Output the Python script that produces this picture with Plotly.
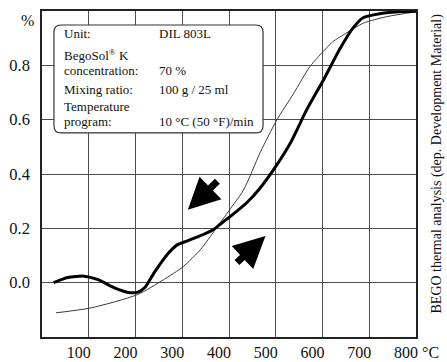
import plotly.graph_objects as go

# ---- data ----
thick_x = [25, 55, 90, 120, 155, 185, 205, 220, 240, 268, 290, 310, 335, 366, 381, 403,
           439, 465, 495, 531, 566, 602, 637, 665, 687, 722, 771, 800]
thick_y = [0.0, 0.019, 0.024, 0.011, -0.019, -0.036, -0.035, -0.018, 0.037, 0.104, 0.140,
           0.153, 0.170, 0.195, 0.215, 0.244, 0.296, 0.345, 0.415, 0.513, 0.636, 0.746,
           0.860, 0.937, 0.975, 0.990, 0.998, 0.999]

thin_x = [30, 104, 204, 260, 302, 339, 371, 400, 431, 467, 502, 538, 573, 609, 622, 652,
          687, 737, 800]
thin_y = [-0.111, -0.093, -0.044, 0.011, 0.059, 0.122, 0.196, 0.265, 0.341, 0.480, 0.598,
          0.696, 0.795, 0.865, 0.887, 0.920, 0.955, 0.979, 0.997]

x_ticks = [100, 200, 300, 400, 500, 600, 700, 800]
x_tick_labels = ["100", "200", "300", "400", "500", "600", "700", "800"]
y_ticks = [0.0, 0.2, 0.4, 0.6, 0.8]
y_tick_labels = ["0.0", "0.2", "0.4", "0.6", "0.8"]

info_labels = ["Unit:", "BegoSol<sup>®</sup> K", "concentration:", "Mixing ratio:", "Temperature", "program:"]
info_values = ["DIL 803L", "", "70 %", "100 g / 25 ml", "", "10 °C (50 °F)/min"]

FONT = "Liberation Serif"
INK = "#111111"

fig = go.Figure()
fig.add_trace(go.Scatter(x=thin_x, y=thin_y, mode="lines",
                         line=dict(color="#3a3a3a", width=1, shape="spline", smoothing=0.7),
                         hoverinfo="skip", showlegend=False))
fig.add_trace(go.Scatter(x=thick_x, y=thick_y, mode="lines",
                         line=dict(color="#000000", width=3, shape="spline", smoothing=0.6),
                         hoverinfo="skip", showlegend=False))

# info box (rounded rectangle, paper coords)
x0, x1, y0, y1 = 0.032, 0.591, 0.626, 0.957
rx, ry = 0.019, 0.022
path = (f"M {x0+rx},{y1} L {x1-rx},{y1} Q {x1},{y1} {x1},{y1-ry} "
        f"L {x1},{y0+ry} Q {x1},{y0} {x1-rx},{y0} L {x0+rx},{y0} "
        f"Q {x0},{y0} {x0},{y0+ry} L {x0},{y1-ry} Q {x0},{y1} {x0+rx},{y1} Z")
fig.add_shape(type="path", path=path, xref="paper", yref="paper",
              line=dict(color="#333333", width=1.2), fillcolor="white", layer="above")

line_y = [0.9325, 0.865, 0.819, 0.758, 0.7075, 0.6616]
ann = []
for lab, val, yy in zip(info_labels, info_values, line_y):
    ann.append(dict(x=0.0535, y=yy, xref="paper", yref="paper", text=lab, showarrow=False,
                    xanchor="left", yanchor="middle", font=dict(family=FONT, size=13, color=INK)))
    if val:
        ann.append(dict(x=0.3075, y=yy, xref="paper", yref="paper", text=val, showarrow=False,
                        xanchor="left", yanchor="middle", font=dict(family=FONT, size=13, color=INK)))

# arrows
ann.append(dict(x=312, y=0.268, xref="x", yref="y", text="", showarrow=True, ax=31, ay=-30,
                arrowhead=2, arrowsize=0.9, arrowwidth=7, arrowcolor="black", standoff=0))
ann.append(dict(x=478, y=0.172, xref="x", yref="y", text="", showarrow=True, ax=-30, ay=28,
                arrowhead=2, arrowsize=0.9, arrowwidth=7, arrowcolor="black", standoff=0))

# unit labels
ann.append(dict(x=-0.04, y=0.972, xref="paper", yref="paper", text="%", showarrow=False,
                xanchor="center", yanchor="middle", font=dict(family=FONT, size=16, color=INK)))
ann.append(dict(x=1.01, y=-0.048, xref="paper", yref="paper", text="°C", showarrow=False,
                xanchor="left", yanchor="middle", font=dict(family=FONT, size=16, color=INK)))
ann.append(dict(x=1.056, y=0.532, xref="paper", yref="paper", textangle=-90,
                text="BEGO thermal analysis (dep. Development Material)", showarrow=False,
                xanchor="center", yanchor="middle", font=dict(family=FONT, size=14, color=INK)))

fig.update_layout(
    width=447, height=362,
    margin=dict(l=42, r=31, t=11, b=25, autoexpand=False),
    paper_bgcolor="white", plot_bgcolor="white",
    annotations=ann,
    xaxis=dict(range=[0, 800], tickvals=x_ticks, ticktext=x_tick_labels, automargin=False,
               showgrid=True, gridcolor="#4d4d4d", gridwidth=1, zeroline=False,
               showline=True, mirror=True, linecolor="#222222", linewidth=1.5,
               ticks="", ticklabelshift=-10, ticklabelstandoff=0,
               tickfont=dict(family=FONT, size=16, color=INK)),
    yaxis=dict(range=[-0.2, 1.0], tickvals=y_ticks, ticktext=y_tick_labels, automargin=False,
               showgrid=True, gridcolor="#4d4d4d", gridwidth=1, zeroline=False,
               showline=True, mirror=True, linecolor="#222222", linewidth=1.5,
               ticks="", ticklabelstandoff=7,
               tickfont=dict(family=FONT, size=16.5, color=INK)),
)

fig.write_html("out.html", config={"displayModeBar": False},
               post_script="document.body.style.margin='0';")
